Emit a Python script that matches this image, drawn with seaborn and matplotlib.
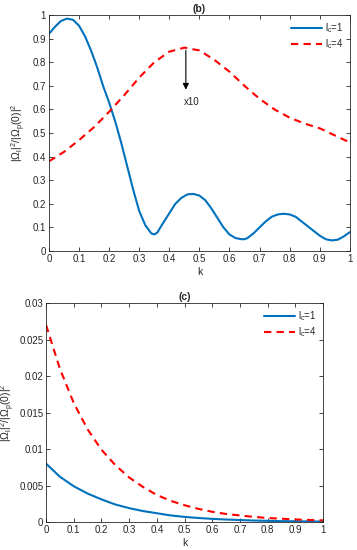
import numpy as np
import pandas as pd
import matplotlib
matplotlib.use("Agg")
import matplotlib.pyplot as plt
import seaborn as sns

# panel (b): |Omega_l|^2/|Omega_p(0)|^2 vs k
k_b1 = [0, 0.02, 0.04, 0.06, 0.08, 0.10, 0.12, 0.14, 0.16, 0.18, 0.20, 0.22, 0.24,
        0.26, 0.28, 0.30, 0.32, 0.34, 0.35, 0.36, 0.38, 0.40, 0.42, 0.44, 0.46,
        0.48, 0.50, 0.52, 0.54, 0.56, 0.58, 0.60, 0.62, 0.64, 0.65, 0.66, 0.68,
        0.70, 0.72, 0.74, 0.76, 0.78, 0.80, 0.82, 0.84, 0.86, 0.88, 0.90, 0.92,
        0.94, 0.96, 0.98, 1.0]
b_lc1 = [0.92, 0.95, 0.975, 0.985, 0.98, 0.955, 0.91, 0.85, 0.78, 0.70, 0.63, 0.55, 0.46,
         0.36, 0.26, 0.17, 0.11, 0.075, 0.07, 0.078, 0.12, 0.16, 0.20, 0.225, 0.24,
         0.242, 0.235, 0.215, 0.18, 0.14, 0.10, 0.07, 0.055, 0.05, 0.05, 0.055, 0.075,
         0.10, 0.125, 0.145, 0.155, 0.158, 0.155, 0.145, 0.125, 0.105, 0.085, 0.065, 0.05,
         0.045, 0.048, 0.062, 0.08]
k_b4 = [0, 0.05, 0.10, 0.15, 0.20, 0.25, 0.30, 0.35, 0.40, 0.45, 0.50, 0.55, 0.60,
        0.65, 0.70, 0.75, 0.80, 0.85, 0.90, 0.95, 1.0]
b_lc4 = [0.38, 0.42, 0.47, 0.525, 0.59, 0.66, 0.735, 0.80, 0.845, 0.862, 0.85, 0.81, 0.76,
         0.70, 0.645, 0.60, 0.565, 0.54, 0.52, 0.49, 0.46]

# panel (c)
k_c = [0, 0.05, 0.10, 0.15, 0.20, 0.25, 0.30, 0.35, 0.40, 0.45, 0.50, 0.55, 0.60,
       0.65, 0.70, 0.75, 0.80, 0.85, 0.90, 0.95, 1.0]
c_lc1 = [0.008, 0.0062, 0.0049, 0.0039, 0.0031, 0.0024, 0.0019, 0.0015, 0.0012, 0.0009,
         0.0007, 0.00055, 0.00043, 0.00034, 0.00027, 0.0002, 0.00016, 0.00012, 0.0001,
         0.00008, 0.00006]
c_lc4 = [0.027, 0.021, 0.0163, 0.0127, 0.0099, 0.0078, 0.0061, 0.0048, 0.0037, 0.0029,
         0.0023, 0.0018, 0.0014, 0.0011, 0.0009, 0.0007, 0.00055, 0.00045, 0.00035,
         0.00028, 0.00022]

sns.set_theme(style="ticks")
plt.rcParams["font.family"] = ["Liberation Sans", "DejaVu Sans"]
plt.rcParams["mathtext.fontset"] = "custom"
plt.rcParams["mathtext.rm"] = "Liberation Sans"
plt.rcParams["mathtext.it"] = "Liberation Sans"
plt.rcParams["mathtext.bf"] = "Liberation Sans:bold"

BLUE = "#0072BD"
RED = "#FF0000"
ylab = r"$|\Omega_l|^2/|\Omega_p(0)|^2$"
lab1 = r"$\mathregular{l_c}$=1"
lab4 = r"$\mathregular{l_c}$=4"
ticks_k = ["0", "0.1", "0.2", "0.3", "0.4", "0.5", "0.6", "0.7", "0.8", "0.9", "1"]

fig = plt.figure(figsize=(3.57, 5.5), dpi=100)
ax1 = fig.add_axes([0.137, 0.5436, 0.843, 0.429])
ax2 = fig.add_axes([0.129, 0.0509, 0.776, 0.398])

def style(ax):
    ax.tick_params(direction="in", top=True, right=True, labelsize=7,
                   colors="#262626", length=3, width=0.6, pad=2)
    for s in ax.spines.values():
        s.set_visible(True)
        s.set_color("#262626")
        s.set_linewidth(0.6)

df_b1 = pd.DataFrame({"k": k_b1, "v": b_lc1})
df_b4 = pd.DataFrame({"k": k_b4, "v": b_lc4})
sns.lineplot(data=df_b1, x="k", y="v", ax=ax1, color=BLUE, lw=1.5, label=lab1)
sns.lineplot(data=df_b4, x="k", y="v", ax=ax1, color=RED, lw=1.5, label=lab4,
             linestyle=(0, (3.5, 2.5)))
ax1.set_xlim(0, 1)
ax1.set_ylim(0, 1)
ax1.set_xticks(np.arange(0, 1.01, 0.1))
ax1.set_yticks(np.arange(0, 1.01, 0.1))
ax1.set_xticklabels(ticks_k)
ax1.set_yticklabels(ticks_k)
ax1.set_xlabel("k", fontsize=7.5, labelpad=2)
ax1.set_ylabel(ylab, fontsize=7.5)
ax1.yaxis.set_label_coords(-0.07, 0.5)
ax1.set_title("(b)", fontsize=7.5, fontweight="bold", pad=2)
style(ax1)
ax1.legend(loc="upper right", frameon=False, fontsize=7, handlelength=3.2,
           handletextpad=0.3, labelspacing=0.2, borderaxespad=0.25)
ax1.annotate("", xy=(0.455, 0.672), xytext=(0.455, 0.862),
             arrowprops=dict(arrowstyle="-|>", color="black", lw=0.8,
                             mutation_scale=9))
ax1.text(0.447, 0.63, "x10", fontsize=7, ha="left", va="center", color="#262626")

df_c1 = pd.DataFrame({"k": k_c, "v": c_lc1})
df_c4 = pd.DataFrame({"k": k_c, "v": c_lc4})
sns.lineplot(data=df_c1, x="k", y="v", ax=ax2, color=BLUE, lw=1.5, label=lab1)
sns.lineplot(data=df_c4, x="k", y="v", ax=ax2, color=RED, lw=1.5, label=lab4,
             linestyle=(0, (3.5, 2.5)))
ax2.set_xlim(0, 1)
ax2.set_ylim(0, 0.03)
ax2.set_xticks(np.arange(0, 1.01, 0.1))
ax2.set_yticks([0, 0.005, 0.01, 0.015, 0.02, 0.025, 0.03])
ax2.set_xticklabels(ticks_k)
ax2.set_yticklabels(["0", "0.005", "0.01", "0.015", "0.02", "0.025", "0.03"])
ax2.set_xlabel("k", fontsize=7.5, labelpad=2)
ax2.set_ylabel(ylab, fontsize=7.5)
ax2.yaxis.set_label_coords(-0.105, 0.5)
ax2.set_title("(c)", fontsize=7.5, fontweight="bold", pad=2)
style(ax2)
ax2.legend(loc="upper right", frameon=False, fontsize=7, handlelength=3.2,
           handletextpad=0.3, labelspacing=0.2, borderaxespad=0.25)

fig.savefig("out.png", dpi=100)
